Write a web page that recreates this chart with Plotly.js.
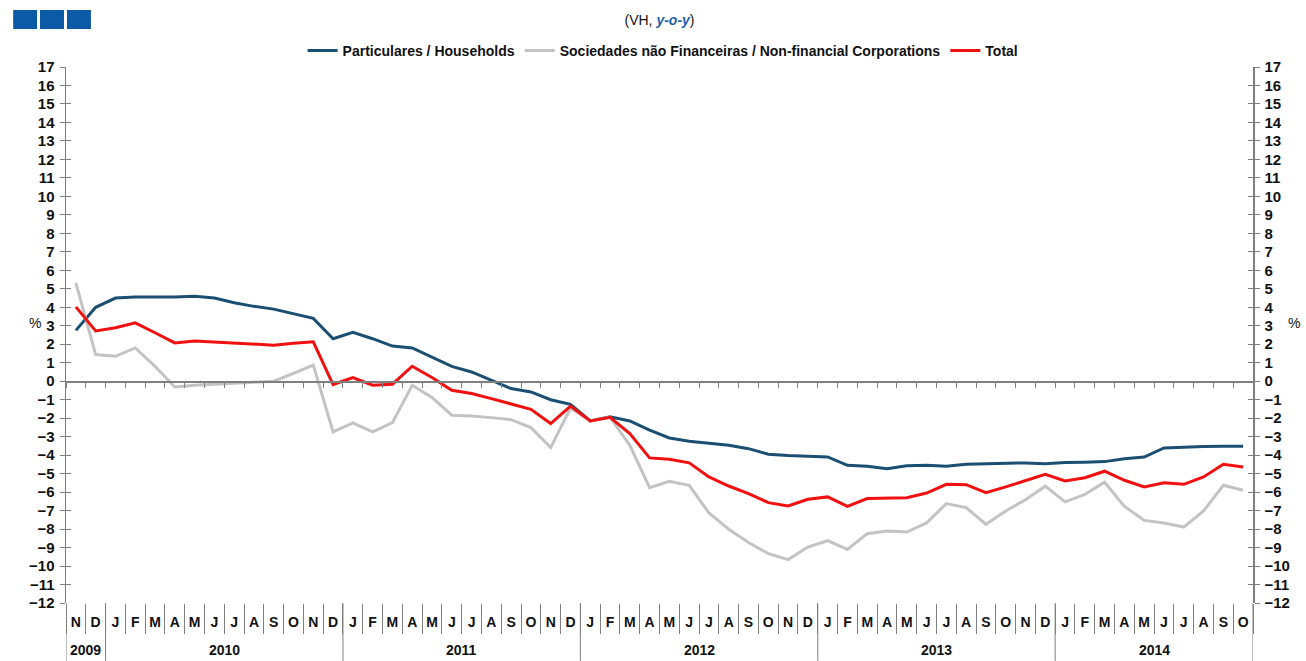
<!DOCTYPE html>
<html>
<head>
<meta charset="utf-8">
<script src="https://cdn.plot.ly/plotly-3.0.1.min.js"></script>
<style>html,body{margin:0;padding:0;background:#fff;}#chart{width:1306px;height:661px;}</style>
</head>
<body>
<div id="chart"></div>
<script>
// ---- Data ----
const months = ["N","D",
  "J","F","M","A","M","J","J","A","S","O","N","D",
  "J","F","M","A","M","J","J","A","S","O","N","D",
  "J","F","M","A","M","J","J","A","S","O","N","D",
  "J","F","M","A","M","J","J","A","S","O","N","D",
  "J","F","M","A","M","J","J","A","S","O"];
const years = ["2009","2010","2011","2012","2013","2014"];
const monthsPerYear = [2,12,12,12,12,10];

const households = [2.75,4.0,
  4.5,4.55,4.55,4.55,4.6,4.5,4.25,4.05,3.9,3.65,3.4,2.3,
  2.65,2.3,1.9,1.8,1.3,0.8,0.5,0.05,-0.4,-0.58,-1.0,-1.25,
  -2.15,-1.93,-2.15,-2.65,-3.07,-3.25,-3.37,-3.47,-3.65,-3.95,-4.02,-4.06,
  -4.1,-4.55,-4.6,-4.73,-4.58,-4.55,-4.6,-4.49,-4.47,-4.47,-4.42,-4.47,
  -4.4,-4.38,-4.35,-4.19,-4.1,-3.61,-3.55,-3.53,-3.52,-3.52];
const nonFinancial = [5.32,1.44,
  1.35,1.8,0.8,-0.31,-0.22,-0.18,-0.11,-0.05,0.0,0.42,0.87,-2.74,
  -2.26,-2.74,-2.24,-0.22,-0.88,-1.84,-1.88,-1.97,-2.08,-2.51,-3.59,-1.45,
  -2.15,-1.95,-3.47,-5.76,-5.41,-5.63,-7.13,-8.01,-8.73,-9.33,-9.65,-8.97,
  -8.63,-9.1,-8.25,-8.1,-8.16,-7.67,-6.62,-6.84,-7.74,-7.02,-6.41,-5.68,
  -6.53,-6.12,-5.47,-6.77,-7.53,-7.67,-7.89,-7.02,-5.63,-5.9];
const total = [4.02,2.72,
  2.89,3.16,2.62,2.07,2.18,2.13,2.07,2.0,1.95,2.05,2.13,-0.18,
  0.2,-0.22,-0.16,0.81,0.2,-0.49,-0.67,-0.94,-1.21,-1.52,-2.29,-1.35,
  -2.15,-1.95,-2.83,-4.15,-4.22,-4.42,-5.18,-5.67,-6.08,-6.57,-6.75,-6.39,
  -6.26,-6.77,-6.35,-6.33,-6.3,-6.05,-5.58,-5.6,-6.03,-5.72,-5.4,-5.04,
  -5.4,-5.22,-4.87,-5.36,-5.72,-5.5,-5.58,-5.18,-4.49,-4.64];

const seriesNames = ["Particulares / Households","Sociedades não Financeiras / Non-financial Corporations","Total"];
const yTicks = [];
for (let v = -12; v <= 17; v++) yTicks.push(v);

// ---- Build ----
const n = months.length;
const idx = months.map((_, i) => i);
const boundaries = [];
for (let i = 0; i <= n; i++) boundaries.push(i - 0.5);

const FONT = "'Liberation Sans Narrow', 'Arial Narrow', 'Liberation Sans', Arial, sans-serif";
const AX = "#7f7f7f";

const traces = [
  {x: idx, y: households, name: seriesNames[0], type: "scatter", mode: "lines", line: {color: "#1b4f72", width: 3}},
  {x: idx, y: nonFinancial, name: seriesNames[1], type: "scatter", mode: "lines", line: {color: "#c3c3c3", width: 3}},
  {x: idx, y: total, name: seriesNames[2], type: "scatter", mode: "lines", line: {color: "#f01010", width: 3}}
];
// invisible helper traces so that the mirrored axes get drawn
["y2", "y3", "y4"].forEach(ax => traces.push({x: idx, y: total, yaxis: ax, type: "scatter", mode: "lines",
  line: {width: 0, color: "rgba(0,0,0,0)"}, opacity: 0, showlegend: false, hoverinfo: "skip"}));
traces.push({x: idx, y: total, xaxis: "x2", type: "scatter", mode: "lines",
  line: {width: 0, color: "rgba(0,0,0,0)"}, opacity: 0, showlegend: false, hoverinfo: "skip"});

const shapes = [];
const annotations = [];
// year separators and labels
let start = -0.5;
shapes.push({type: "line", xref: "x", yref: "paper", x0: start, x1: start, y0: -0.108, y1: 0, line: {color: AX, width: 1}});
years.forEach((yr, k) => {
  const end = start + monthsPerYear[k];
  shapes.push({type: "line", xref: "x", yref: "paper", x0: end, x1: end, y0: -0.108, y1: 0, line: {color: AX, width: 1}});
  annotations.push({xref: "x", yref: "paper", x: (start + end) / 2, y: -0.088, text: "<b>" + yr + "</b>", showarrow: false,
    font: {family: FONT, size: 14, color: "#111"}, yanchor: "middle"});
  start = end;
});
// logo squares
const logoX = [[-0.0445, -0.0244], [-0.0219, -0.0017], [0.0008, 0.0210]];
logoX.forEach(p => shapes.push({type: "rect", xref: "paper", yref: "paper", x0: p[0], x1: p[1], y0: 1.0709, y1: 1.1063,
  fillcolor: "#0b5aa6", line: {width: 0}}));
// % labels
annotations.push({xref: "paper", yref: "paper", x: -0.033, y: 0.522, text: "%", showarrow: false, font: {family: FONT, size: 14, color: "#111"}});
annotations.push({xref: "paper", yref: "paper", x: 1.041, y: 0.522, text: "%", showarrow: false, font: {family: FONT, size: 14, color: "#111"}});

const tickFont = {family: FONT, size: 15, color: "#111", weight: "bold"};
const yBase = {range: [-12, 17], tickmode: "array", tickvals: yTicks, showgrid: false, zeroline: false, fixedrange: true};

const layout = {
  width: 1306, height: 661,
  margin: {l: 66, r: 53, t: 67, b: 58},
  paper_bgcolor: "#fff", plot_bgcolor: "#fff",
  font: {family: FONT, color: "#111"},
  title: {text: "(VH, <b><i><span style='color:#1f5fa6'>y-o-y</span></i></b>)", x: 0.5, xref: "paper", y: 0.97, yanchor: "middle",
    font: {family: FONT, size: 14, color: "#111"}},
  showlegend: true,
  legend: {orientation: "h", x: 0.503, xanchor: "center", y: 1.03, yanchor: "middle", font: {family: FONT, size: 14, color: "#111", weight: "bold"},
    itemwidth: 30, bgcolor: "rgba(0,0,0,0)"},
  xaxis: {range: [-0.5, n - 0.5], tickmode: "array", tickvals: idx, ticktext: months, ticks: "", showline: false,
    showgrid: false, zeroline: false, tickfont: {family: FONT, size: 14, color: "#111", weight: "bold"}, ticklabelstandoff: 9,
    minor: {tickmode: "array", tickvals: boundaries, ticks: "outside", ticklen: 30, tickcolor: AX, tickwidth: 1, showgrid: false}},
  xaxis2: {overlaying: "x", anchor: "free", position: 12 / 29, side: "bottom", range: [-0.5, n - 0.5], tickmode: "array",
    tickvals: boundaries, ticks: "outside", ticklen: 5, tickcolor: AX, showline: true, linecolor: AX, linewidth: 1.5,
    showticklabels: false, showgrid: false, zeroline: false},
  yaxis: Object.assign({}, yBase, {side: "left", ticks: "outside", ticklen: 5, tickcolor: AX, showline: true, linecolor: AX, linewidth: 1.5,
    tickfont: tickFont, ticklabelstandoff: 2}),
  yaxis2: Object.assign({}, yBase, {overlaying: "y", side: "right", anchor: "x", ticks: "outside", ticklen: 5, tickcolor: AX, showline: true,
    linecolor: AX, linewidth: 1.5, tickfont: tickFont, ticklabelstandoff: 2}),
  yaxis3: Object.assign({}, yBase, {overlaying: "y", side: "left", anchor: "x", ticks: "inside", ticklen: 5, tickcolor: AX, showticklabels: false, showline: false}),
  yaxis4: Object.assign({}, yBase, {overlaying: "y", side: "right", anchor: "x", ticks: "inside", ticklen: 5, tickcolor: AX, showticklabels: false, showline: false}),
  shapes: shapes,
  annotations: annotations
};

Plotly.newPlot("chart", traces, layout, {displayModeBar: false, staticPlot: true});
</script>
</body>
</html>
